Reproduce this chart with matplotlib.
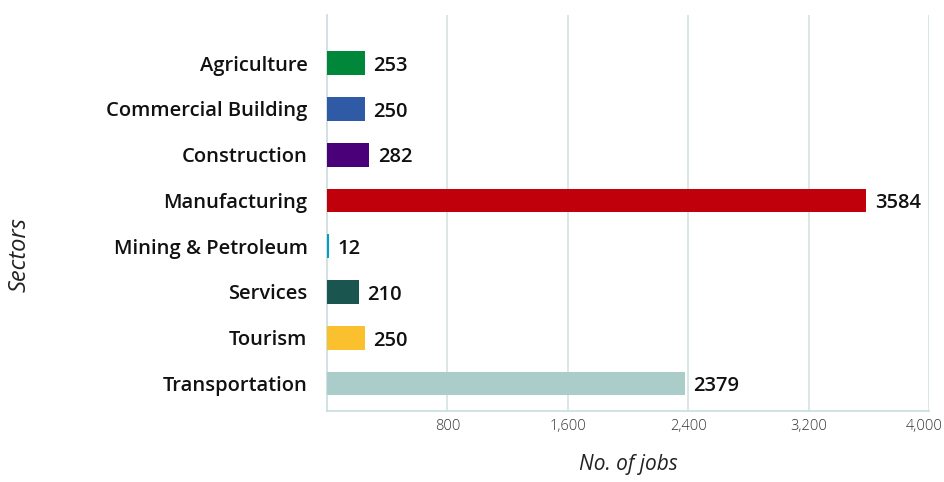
import numpy as np
import matplotlib.pyplot as plt
import matplotlib.transforms as mtransforms

sectors = ['Agriculture', 'Commercial Building', 'Construction', 'Manufacturing',
           'Mining & Petroleum', 'Services', 'Tourism', 'Transportation']
jobs = [253, 250, 282, 3584, 12, 210, 250, 2379]
colors = ['#00873a', '#2e5aa6', '#4a0079', '#c0000b',
          '#00a0c6', '#1b554f', '#fbc02d', '#abcdca']
xticks = [800, 1600, 2400, 3200, 4000]

plt.rcParams['font.family'] = ['Open Sans', 'DejaVu Sans']

fig = plt.figure(figsize=(9.45, 4.82), dpi=100)
ax = fig.add_axes([327 / 945, 1 - 411 / 482, (929 - 327) / 945, (411 - 15) / 482])

y = np.arange(len(sectors))
ax.barh(y, jobs, height=0.52, color=colors, zorder=3)
for yi, v in zip(y, jobs):
    ax.annotate(str(v), (v, yi), xytext=(6, -2), textcoords='offset points',
                va='center', ha='left', fontsize=14.5, fontweight='semibold',
                color='#111111', zorder=4)

ax.set_ylim(len(sectors) - 0.5 + 0.1, -0.5 - 0.55)
ax.set_xlim(0, 4000)
ax.set_yticks(y)
ax.set_yticklabels(sectors, fontsize=14.5, fontweight='semibold', color='#111111')
ax.set_xticks(xticks)
ax.set_xticklabels([f'{t:,}' for t in xticks], fontsize=10.5, fontweight='light',
                   color='#333333')
ax.tick_params(axis='both', length=0)
ax.tick_params(axis='y', pad=14)
ax.tick_params(axis='x', pad=6)
ax.grid(axis='x', color='#d3e3e2', linewidth=1.2, zorder=0)

# keep the last tick label inside the figure
last = ax.get_xticklabels()[-1]
last.set_transform(last.get_transform() +
                   mtransforms.ScaledTranslation(-5 / 100, 0, fig.dpi_scale_trans))

for s in ['top', 'right']:
    ax.spines[s].set_visible(False)
for s in ['left', 'bottom']:
    ax.spines[s].set_color('#c9dcdb')
    ax.spines[s].set_linewidth(1.2)

ax.set_xlabel('No. of jobs', fontsize=15, style='italic', color='#222222', labelpad=14)
fig.text(20 / 945, 1 - 255 / 482, 'Sectors', rotation=90, fontsize=17, style='italic',
         color='#222222', ha='center', va='center')

plt.savefig('out.png', dpi=100)
